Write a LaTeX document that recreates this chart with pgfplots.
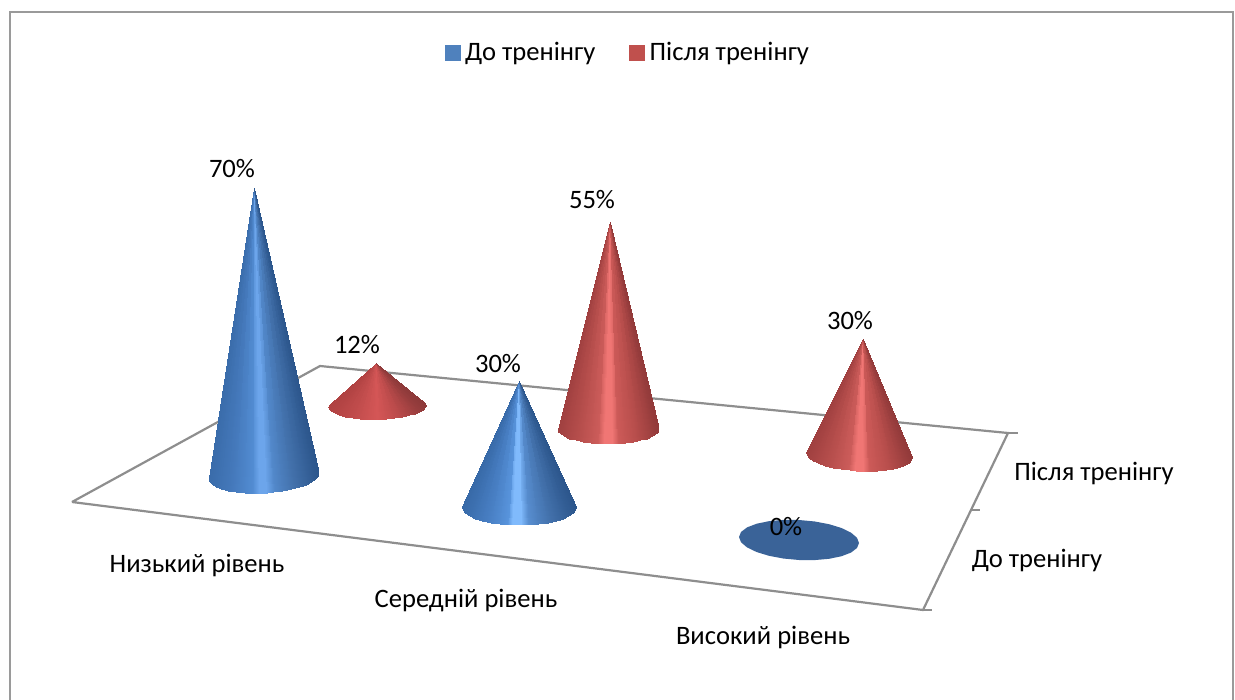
\documentclass[border=0pt]{standalone}
\usepackage{fontspec}
\setmainfont{Carlito}
\usepackage{pgfplots}
\usepackage{pgfplotstable}
\pgfplotsset{compat=1.18}
\usepgfplotslibrary{patchplots}

\newcommand{\lab}{\fontsize{26.6}{30}\selectfont}
\definecolor{framegray}{HTML}{9A9A9A}
\definecolor{floorgray}{HTML}{8E8E8E}
\definecolor{legblue}{HTML}{4F81BD}
\definecolor{legred}{HTML}{C0504D}
\definecolor{discblue}{HTML}{3A6398}

% Surface colour as a function of the position across the cone (0 left edge, 100 right edge)
\pgfplotsset{
  colormap={bluetall}{
    rgb255(0pt)=(58,108,170) rgb255(20pt)=(68,120,186) rgb255(40pt)=(82,140,210)
    rgb255(46pt)=(108,165,235) rgb255(52pt)=(108,165,235) rgb255(60pt)=(82,136,202)
    rgb255(78pt)=(66,112,170) rgb255(100pt)=(44,86,140)},
  colormap={blueshort}{
    rgb255(0pt)=(56,106,168) rgb255(20pt)=(70,124,192) rgb255(40pt)=(88,148,220)
    rgb255(44pt)=(128,186,252) rgb255(52pt)=(128,186,252) rgb255(58pt)=(88,142,208)
    rgb255(78pt)=(66,112,170) rgb255(100pt)=(44,86,140)},
  colormap={redcone}{
    rgb255(0pt)=(160,64,64) rgb255(20pt)=(182,78,76) rgb255(40pt)=(204,92,90)
    rgb255(46pt)=(240,118,116) rgb255(54pt)=(240,118,116) rgb255(60pt)=(204,90,88)
    rgb255(78pt)=(184,78,76) rgb255(100pt)=(146,58,58)},
  colormap={redflat}{
    rgb255(0pt)=(176,66,66) rgb255(30pt)=(196,78,78) rgb255(50pt)=(212,86,86)
    rgb255(70pt)=(190,76,76) rgb255(100pt)=(142,58,58)},
}

% One unit cone: u across, w towards the viewer, v towards the apex, c surface parameter.
% Three rows make one triangle; the two rear slivers come first.
\pgfplotstableread{
u w v c
0.866 -0.5 0 1
0.966 -0.259 0 1
0 0 1 1
0.966 -0.259 0 1
1 0 0 1
0 0 1 1
-0.866 -0.5 0 0
-0.966 -0.259 0 0
0 0 1 0
-0.966 -0.259 0 0
-1 0 0 0
0 0 1 0
-1 0 0 0
-0.985 0.174 0 0.0075
0 0 1 0.00375
-0.985 0.174 0 0.0075
-0.94 0.342 0 0.03
0 0 1 0.01875
-0.94 0.342 0 0.03
-0.866 0.5 0 0.067
0 0 1 0.0485
-0.866 0.5 0 0.067
-0.766 0.643 0 0.117
0 0 1 0.092
-0.766 0.643 0 0.117
-0.643 0.766 0 0.1785
0 0 1 0.148
-0.643 0.766 0 0.1785
-0.5 0.866 0 0.25
0 0 1 0.214
-0.5 0.866 0 0.25
-0.342 0.94 0 0.329
0 0 1 0.29
-0.342 0.94 0 0.329
-0.174 0.985 0 0.413
0 0 1 0.371
-0.174 0.985 0 0.413
-0.06 0.998 0 0.47
0 0 1 0.44
-0.06 0.998 0 0.47
0.06 0.998 0 0.53
0 0 1 0.5
0.06 0.998 0 0.53
0.174 0.985 0 0.587
0 0 1 0.56
0.174 0.985 0 0.587
0.342 0.94 0 0.671
0 0 1 0.629
0.342 0.94 0 0.671
0.5 0.866 0 0.75
0 0 1 0.71
0.5 0.866 0 0.75
0.643 0.766 0 0.8215
0 0 1 0.786
0.643 0.766 0 0.8215
0.766 0.643 0 0.883
0 0 1 0.852
0.766 0.643 0 0.883
0.866 0.5 0 0.933
0 0 1 0.908
0.866 0.5 0 0.933
0.94 0.342 0 0.97
0 0 1 0.952
0.94 0.342 0 0.97
0.985 0.174 0 0.9925
0 0 1 0.981
0.985 0.174 0 0.9925
1 0 0 1
0 0 1 0.996
}\unitcone

% Unit circle for a level disc
\pgfplotstableread{
u w
1 0
0.966 0.259
0.866 0.5
0.707 0.707
0.5 0.866
0.259 0.966
0 1
-0.259 0.966
-0.5 0.866
-0.707 0.707
-0.866 0.5
-0.966 0.259
-1 0
-0.966 -0.259
-0.866 -0.5
-0.707 -0.707
-0.5 -0.866
-0.259 -0.966
0 -1
0.259 -0.966
0.5 -0.866
0.707 -0.707
0.866 -0.5
0.966 -0.259
1 0
}\unitdisc

% Chart floor and its depth ticks
\pgfplotstableread{
x y
72 502
320 366
1008 433
923 610
72 502
}\floor

% Data labels: position and value
\pgfplotstableread{
x y value
232 168.3 70
357 344.3 12
498 363.3 30
592 199.7 55
786 526.2 0
850 320.3 30
}\datalabels

% Category names around the floor
\newcommand{\catlabel}[3]{\node[font=\lab,text=black] at (axis cs:#1,#2) {#3};}

% #1 colormap, #2 #3 base centre, #4 #5 radii, #6 tilt, #7 lean, #8 value in %, #9 pixels per %
\newcommand{\cone}[9]{%
  \addplot[patch, patch type=triangle, shader=interp, colormap name=#1, forget plot,
           point meta=explicit]
    table[meta=c, x expr={#2+#4*\thisrow{u}+(#7)*\thisrow{v}},
          y expr={#3+#5*\thisrow{w}+(#6)*\thisrow{u}-#8*#9*\thisrow{v}}] {\unitcone};
}

\begin{document}
\begin{tikzpicture}[x=1pt,y=1pt]
\path[use as bounding box] (0,0) rectangle (1235,700);
\begin{axis}[
  at={(0,0)}, anchor=south west,
  width=1235pt, height=700pt, scale only axis,
  xmin=0, xmax=1235, ymin=0, ymax=700, y dir=reverse,
  point meta min=0, point meta max=1,
  hide axis, clip=false,
  legend columns=2,
  legend style={at={(axis cs:628,52.3)}, anchor=center, draw=none, fill=none,
    font=\lab, text=black, /tikz/every even column/.append style={column sep=32pt}},
  legend cell align=left,
]
% chart frame
\addplot[draw=framegray, line width=2pt, forget plot] coordinates {(10,700) (10,12) (1233,12) (1233,700)};

% floor
\addplot[draw=floorgray, line width=2.2pt, forget plot] table {\floor};
\addplot[draw=floorgray, line width=2pt, forget plot] coordinates {(1008,433) (1018,433)};
\addplot[draw=floorgray, line width=2pt, forget plot] coordinates {(971,510) (980,510)};
\addplot[draw=floorgray, line width=2pt, forget plot] coordinates {(923,610) (932,610)};

% after training
\cone{redflat}{377}{406}{49}{13}{-1}{-1}{12}{3.58}
\cone{redcone}{608}{429}{50.5}{15}{0}{2}{55}{3.76}
\cone{redcone}{859}{455}{53}{16}{2.5}{4}{30}{3.87}
% before training
\cone{bluetall}{263.5}{476}{55}{17}{-2.5}{-10}{70}{4.114}
\cone{blueshort}{519}{507}{57}{18}{0}{0}{30}{4.2}
% zero value: only the base remains
\addplot[fill=discblue, draw=none, forget plot]
  table[x expr={799+60*\thisrow{u}}, y expr={540+20*\thisrow{w}+3*\thisrow{u}}] {\unitdisc} -- cycle;

% data labels
\addplot[only marks, mark=none, point meta=explicit, forget plot,
  nodes near coords={\pgfmathprintnumber[fixed,precision=0,/pgf/number format/assume math mode=true]{\pgfplotspointmeta}\%},
  nodes near coords style={anchor=center, font=\lab, text=black, inner sep=0pt}]
  table[x=x, y=y, meta=value] {\datalabels};

\catlabel{197}{565.5}{Низький рівень}
\catlabel{466}{600.5}{Середній рівень}
\catlabel{763}{637.5}{Високий рівень}
\catlabel{1094}{473}{Після тренінгу}
\catlabel{1037}{560.5}{До тренінгу}

\addlegendimage{legend image code/.code={\fill[legblue] (0pt,-7.5pt) rectangle (15pt,7.5pt); \path[draw=none,fill=none] (0pt,0pt) -- (18pt,0pt);}}
\addlegendimage{legend image code/.code={\fill[legred] (0pt,-7.5pt) rectangle (15pt,7.5pt); \path[draw=none,fill=none] (0pt,0pt) -- (18pt,0pt);}}
\legend{До тренінгу, Після тренінгу}
\end{axis}
\end{tikzpicture}
\end{document}
